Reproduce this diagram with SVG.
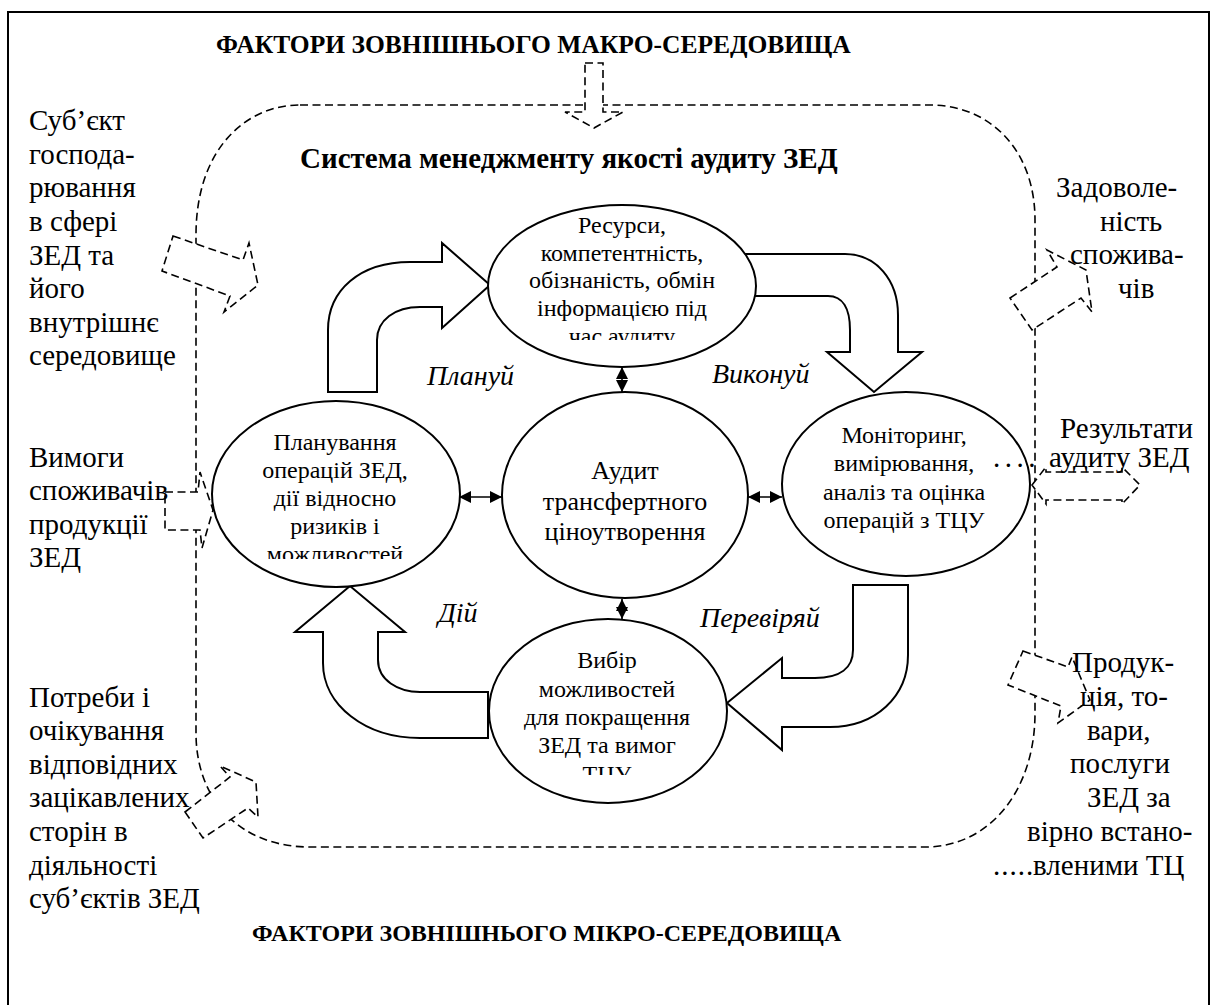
<svg xmlns="http://www.w3.org/2000/svg" width="1213" height="1005" viewBox="0 0 1213 1005">
<style>
text{font-family:"Liberation Serif","DejaVu Serif",serif;fill:#000}
.t{font-size:29px}
.e{font-size:24px;text-anchor:middle}
.c{font-size:26px;text-anchor:middle}
.b{font-weight:bold}
.i{font-style:italic;font-size:28px}
.dash{fill:#fff;stroke:#000;stroke-width:1.6;stroke-dasharray:8 4.5}
.dline{fill:none;stroke:#000;stroke-width:1.6;stroke-dasharray:8 4.5}
.solid{fill:#fff;stroke:#000;stroke-width:2}
.ell{fill:#fff;stroke:#000;stroke-width:2}
.link{stroke:#000;stroke-width:1.6;fill:none}
</style>
<defs>
<marker id="ah" viewBox="0 0 12 12" refX="12" refY="6" markerWidth="12" markerHeight="12" markerUnits="userSpaceOnUse" orient="auto-start-reverse">
<path d="M0,0 L12,6 L0,12 z" fill="#000"/>
</marker>
<clipPath id="clipTop"><rect x="480" y="200" width="290" height="140"/></clipPath>
<clipPath id="clipLeft"><rect x="200" y="400" width="280" height="159"/></clipPath>
<clipPath id="clipBot"><rect x="480" y="620" width="260" height="155"/></clipPath>
</defs>
<rect x="0" y="0" width="1213" height="1005" fill="#fff"/>
<rect x="8" y="12" width="1201" height="1010" fill="none" stroke="#000" stroke-width="2"/>

<g id="titles">
<text class="b" x="216" y="53" font-size="25.5">ФАКТОРИ ЗОВНІШНЬОГО МАКРО-СЕРЕДОВИЩА</text>
<text class="b" x="300" y="168" font-size="29">Система менеджменту якості аудиту ЗЕД</text>
<text class="b" x="252" y="941" font-size="24">ФАКТОРИ ЗОВНІШНЬОГО МІКРО-СЕРЕДОВИЩА</text>
</g>

<g id="system-boundary">
<path class="dline" d="M300,105 L930,105 C990,105 1035,150 1035,220 L1035,713 C1035,790 990,847 925,847 L310,847 C240,847 196,800 196,733 L196,235 C196,150 245,105 300,105 Z"/>
</g>

<g id="external-arrows">
<polygon class="dash" points="585,63 603,63 603,112 623,112 594,128 565,112 585,112"/>
<polygon class="dash" points="173,236 243,260 249,243 258,285 224,312 230,296 162,271"/>
<polygon class="dash" points="165,492 198,492 200,472 213,510 202,548 200,530 165,530"/>
<polygon class="dash" points="185,812 230,777 220,766 256,782 258,817 248,808 203,838"/>
<polygon class="dash" points="1010,298 1057,267 1047,250 1086,270 1092,312 1081,298 1032,330"/>
<polygon class="dash" points="1032,485 1046,467 1046,472 1122,472 1122,467 1140,485 1122,504 1122,500 1046,500 1046,504"/>
<polygon class="dash" points="1023,651 1068,667 1072,657 1090,700 1058,723 1061,706 1008,685"/>
</g>

<g id="cycle-arrows">
<path class="solid" d="M328,392 L328,330 C328,290 360,262 410,262 L442,262 L442,243 L490,285 L442,328 L442,307 L420,307 C395,307 377,320 377,340 L377,392 Z"/>
<path class="solid" d="M740,254 L845,254 C876,254 898,280 898,315 L898,352 L922,352 L874,392 L827,352 L850,352 L850,330 C850,309 843,296 828,296 L740,296 Z"/>
<path class="solid" d="M853,585 L908,585 L908,655 C908,697 875,727 830,727 L782,727 L782,750 L727,703 L782,658 L782,678 L815,678 C840,678 853,668 853,650 Z"/>
<path class="solid" d="M488,692 L420,692 C398,692 378,680 378,660 L378,632 L405,632 L350,586 L295,632 L323,632 L323,663 C323,705 365,738 420,738 L488,738 Z"/>
</g>

<g id="connectors">
<line class="link" x1="622" y1="367" x2="622" y2="392" marker-start="url(#ah)" marker-end="url(#ah)"/>
<line class="link" x1="622" y1="599" x2="622" y2="619" marker-start="url(#ah)" marker-end="url(#ah)"/>
<line class="link" x1="459" y1="497" x2="502" y2="497" marker-start="url(#ah)" marker-end="url(#ah)"/>
<line class="link" x1="748" y1="497" x2="782" y2="497" marker-start="url(#ah)" marker-end="url(#ah)"/>
</g>

<g id="node-resources">
<ellipse class="ell" cx="622" cy="286" rx="134" ry="81"/>
<g clip-path="url(#clipTop)">
<text class="e" x="622" y="233">Ресурси,</text>
<text class="e" x="622" y="261">компетентність,</text>
<text class="e" x="622" y="288">обізнаність, обмін</text>
<text class="e" x="622" y="316">інформацією під</text>
<text class="e" x="622" y="344">час аудиту</text>
</g>
</g>

<g id="node-planning">
<ellipse class="ell" cx="336" cy="494" rx="124" ry="93"/>
<g clip-path="url(#clipLeft)">
<text class="e" x="335" y="450">Планування</text>
<text class="e" x="335" y="478">операцій ЗЕД,</text>
<text class="e" x="335" y="506">дії відносно</text>
<text class="e" x="335" y="534">ризиків і</text>
<text class="e" x="335" y="562">можливостей</text>
</g>
</g>

<g id="node-audit">
<ellipse class="ell" cx="625" cy="495" rx="123" ry="103"/>
<text class="c" x="625" y="479">Аудит</text>
<text class="c" x="625" y="510">трансфертного</text>
<text class="c" x="625" y="540">ціноутворення</text>
</g>

<g id="node-monitoring">
<ellipse class="ell" cx="906" cy="484" rx="124" ry="92"/>
<text class="e" x="904" y="443">Моніторинг,</text>
<text class="e" x="904" y="471">вимірювання,</text>
<text class="e" x="904" y="500">аналіз та оцінка</text>
<text class="e" x="904" y="528">операцій з ТЦУ</text>
</g>

<g id="node-choice">
<ellipse class="ell" cx="608" cy="711" rx="119" ry="92"/>
<g clip-path="url(#clipBot)">
<text class="e" x="607" y="668">Вибір</text>
<text class="e" x="607" y="697">можливостей</text>
<text class="e" x="607" y="725">для покращення</text>
<text class="e" x="607" y="753">ЗЕД та вимог</text>
<text class="e" x="607" y="782">ТЦУ</text>
</g>
</g>

<g id="pdca-labels">
<text class="i" x="427" y="385">Плануй</text>
<text class="i" x="712" y="383">Виконуй</text>
<text class="i" x="438" y="622">Дій</text>
<text class="i" x="700" y="627">Перевіряй</text>
</g>

<g id="left-texts">
<text class="t" x="29" y="130">Суб’єкт</text>
<text class="t" x="29" y="164">господа-</text>
<text class="t" x="29" y="197">рювання</text>
<text class="t" x="29" y="231">в сфері</text>
<text class="t" x="29" y="265">ЗЕД та</text>
<text class="t" x="29" y="298">його</text>
<text class="t" x="29" y="332">внутрішнє</text>
<text class="t" x="29" y="365">середовище</text>
<text class="t" x="29" y="467">Вимоги</text>
<text class="t" x="29" y="500">споживачів</text>
<text class="t" x="29" y="534">продукції</text>
<text class="t" x="29" y="567">ЗЕД</text>
<text class="t" x="29" y="707">Потреби і</text>
<text class="t" x="29" y="740">очікування</text>
<text class="t" x="29" y="774">відповідних</text>
<text class="t" x="29" y="807">зацікавлених</text>
<text class="t" x="29" y="841">сторін в</text>
<text class="t" x="29" y="875">діяльності</text>
<text class="t" x="29" y="908">суб’єктів ЗЕД</text>
</g>

<g id="right-texts">
<text class="t" x="1056" y="197">Задоволе-</text>
<text class="t" x="1100" y="231">ність</text>
<text class="t" x="1070" y="264">спожива-</text>
<text class="t" x="1118" y="298">чів</text>
<text class="t" x="1060" y="438">Результати</text>
<text class="t" y="467"><tspan x="993" letter-spacing="4.5">....</tspan><tspan x="1049">аудиту ЗЕД</tspan></text>
<text class="t" x="1072" y="672">Продук-</text>
<text class="t" x="1080" y="706">ція, то-</text>
<text class="t" x="1087" y="740">вари,</text>
<text class="t" x="1070" y="773">послуги</text>
<text class="t" x="1087" y="807">ЗЕД за</text>
<text class="t" x="1027" y="841">вірно встано-</text>
<text class="t" y="875"><tspan x="993" letter-spacing="1">.....</tspan><tspan x="1033">вленими ТЦ</tspan></text>
</g>
</svg>
